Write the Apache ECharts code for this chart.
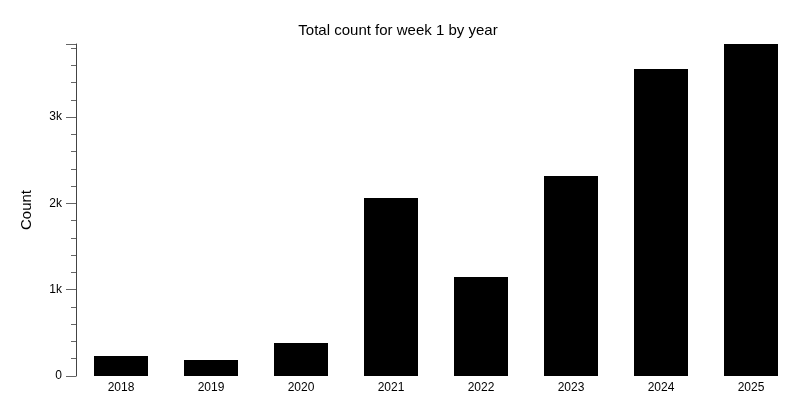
<!DOCTYPE html>
<html><head><meta charset="utf-8">
<script src="https://cdn.jsdelivr.net/npm/echarts@6/dist/echarts.min.js"></script>
<style>html,body{margin:0;padding:0;background:#fff}#c{width:796px;height:418px}</style>
</head><body><div id="c"></div>
<script>
const categories = ['2018','2019','2020','2021','2022','2023','2024','2025'];
const counts = [232, 185, 382, 2062, 1147, 2317, 3557, 3847];
const yTicks = [0, 1000, 2000, 3000];
const chart = echarts.init(document.getElementById('c'));
chart.setOption({
  animation: false,
  title: { text: 'Total count for week 1 by year', left: 'center', top: 18,
    textStyle: { fontFamily: 'Liberation Sans, Arial', fontWeight: 'normal', fontSize: 15, color: '#000' } },
  grid: { left: 76, right: 0, top: 44, bottom: 42 },
  xAxis: { type: 'category', data: categories,
    axisLine: { show: false }, axisTick: { show: false },
    axisLabel: { color: '#000', fontSize: 12, fontFamily: 'Liberation Sans, Arial', margin: 6 } },
  yAxis: { type: 'value', min: 0, max: Math.max(...counts), interval: 1000,
    name: 'Count', nameLocation: 'middle', nameGap: 42,
    nameTextStyle: { color: '#000', fontSize: 15, fontFamily: 'Liberation Sans, Arial' },
    splitLine: { show: false },
    axisLine: { show: true, lineStyle: { color: '#444' } },
    axisTick: { show: true, length: 10, lineStyle: { color: '#666' } },
    minorTick: { show: true, splitNumber: 5, length: 5, lineStyle: { color: '#666' } },
    axisLabel: { color: '#000', fontSize: 12, fontFamily: 'Liberation Sans, Arial', margin: 14,
      showMaxLabel: false,
      formatter: v => yTicks.includes(v) ? (v === 0 ? '0' : (v/1000) + 'k') : '' } },
  series: [{ type: 'bar', data: counts, barWidth: 54, itemStyle: { color: '#000' } }]
});
</script></body></html>
